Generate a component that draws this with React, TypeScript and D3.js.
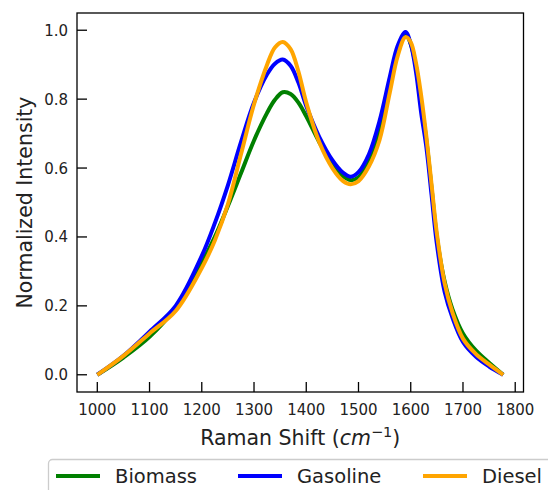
import React, { useEffect, useRef } from 'react';
import * as d3 from 'd3';

// Raman shift grid (cm^-1) shared by all spectra
const ramanShift = [
  1000, 1050, 1100, 1150, 1200, 1225, 1250, 1275, 1300, 1325, 1340, 1355, 1370, 1385,
  1400, 1425, 1450, 1470, 1485, 1500, 1520, 1540, 1560, 1575, 1590, 1600, 1610, 1620,
  1630, 1640, 1650, 1665, 1680, 1700, 1725, 1750, 1777,
];

const biomass = [
  0, 0.05, 0.11, 0.195, 0.325, 0.4, 0.49, 0.585, 0.68, 0.76, 0.798, 0.82, 0.815, 0.79,
  0.75, 0.675, 0.61, 0.577, 0.565, 0.573, 0.62, 0.7, 0.84, 0.94, 0.99, 0.96, 0.895, 0.79,
  0.68, 0.54, 0.4, 0.27, 0.19, 0.12, 0.07, 0.035, 0,
];

const gasoline = [
  0, 0.055, 0.125, 0.2, 0.345, 0.44, 0.55, 0.675, 0.79, 0.872, 0.903, 0.915, 0.897, 0.848,
  0.78, 0.69, 0.623, 0.587, 0.575, 0.588, 0.64, 0.735, 0.865, 0.955, 0.995, 0.96, 0.88, 0.76,
  0.66, 0.52, 0.38, 0.24, 0.165, 0.095, 0.052, 0.024, 0,
];

const diesel = [
  0, 0.055, 0.12, 0.185, 0.31, 0.39, 0.495, 0.64, 0.785, 0.9, 0.95, 0.966, 0.945, 0.88,
  0.79, 0.675, 0.6, 0.563, 0.553, 0.562, 0.605, 0.68, 0.82, 0.925, 0.98, 0.965, 0.905, 0.81,
  0.69, 0.55, 0.41, 0.265, 0.18, 0.105, 0.06, 0.03, 0,
];

const seriesNames = ['Biomass', 'Gasoline', 'Diesel'];
const seriesColors = ['green', 'blue', 'orange'];
const xTicks = [1000, 1100, 1200, 1300, 1400, 1500, 1600, 1700, 1800];
const yTicks = [0, 0.2, 0.4, 0.6, 0.8, 1.0];

export default function App() {
  const svgRef = useRef<SVGSVGElement>(null);

  useEffect(() => {
    if (!svgRef.current) return;
    const width = 548;
    const height = 490;
    const svg = d3.select(svgRef.current);
    svg.selectAll('*').remove();

    const left = 77;
    const right = 523.5;
    const top = 13;
    const bottom = 392;

    // matplotlib-style 5% margins around the data
    const xPad = (1777 - 1000) * 0.05;
    const x = d3.scaleLinear().domain([1000 - xPad, 1777 + xPad]).range([left, right]);
    const y = d3.scaleLinear().domain([-0.05, 1.05]).range([bottom, top]);

    const font = 'DejaVu Sans, sans-serif';

    // Lines
    const allSeries = [biomass, gasoline, diesel];
    const line = d3.line<number>()
      .x((_, i) => x(ramanShift[i]))
      .y(d => y(d))
      .curve(d3.curveCatmullRom.alpha(0.5));

    allSeries.forEach((vals, k) => {
      svg.append('path')
        .datum(vals)
        .attr('fill', 'none')
        .attr('stroke', seriesColors[k])
        .attr('stroke-width', 4)
        .attr('stroke-linejoin', 'round')
        .attr('stroke-linecap', 'butt')
        .attr('d', line);
    });

    // Ticks (inward, left and bottom only)
    const tickLen = 10;
    xTicks.forEach(t => {
      svg.append('line')
        .attr('x1', x(t)).attr('x2', x(t))
        .attr('y1', bottom).attr('y2', bottom - tickLen)
        .attr('stroke', '#000').attr('stroke-width', 1.3);
      svg.append('text')
        .attr('x', x(t))
        .attr('y', 414.5)
        .attr('text-anchor', 'middle')
        .style('font-family', font)
        .style('font-size', '15px')
        .style('fill', '#222')
        .text(String(t));
    });

    yTicks.forEach(t => {
      svg.append('line')
        .attr('x1', left).attr('x2', left + tickLen)
        .attr('y1', y(t)).attr('y2', y(t))
        .attr('stroke', '#000').attr('stroke-width', 1.3);
      svg.append('text')
        .attr('x', 68)
        .attr('y', y(t) + 5.5)
        .attr('text-anchor', 'end')
        .style('font-family', font)
        .style('font-size', '15px')
        .style('fill', '#222')
        .text(t.toFixed(1));
    });

    // Frame
    svg.append('rect')
      .attr('x', left)
      .attr('y', top)
      .attr('width', right - left)
      .attr('height', bottom - top)
      .attr('fill', 'none')
      .attr('stroke', '#000')
      .attr('stroke-width', 1.3);

    // Axis labels
    const xl = svg.append('text')
      .attr('x', (left + right) / 2)
      .attr('y', 445)
      .attr('text-anchor', 'middle')
      .style('font-family', font)
      .style('font-size', '20.5px')
      .style('fill', '#222');
    xl.append('tspan').text('Raman Shift (');
    xl.append('tspan').style('font-style', 'italic').text('cm');
    xl.append('tspan').attr('dy', -8).style('font-size', '14.5px').text('\u22121');
    xl.append('tspan').attr('dy', 8).text(')');

    svg.append('text')
      .attr('transform', `translate(31.5,${(top + bottom) / 2}) rotate(-90)`)
      .attr('text-anchor', 'middle')
      .style('font-family', font)
      .style('font-size', '20.5px')
      .style('fill', '#222')
      .text('Normalized Intensity');

    // Legend (runs off the right/bottom edge)
    svg.append('rect')
      .attr('x', 48.5)
      .attr('y', 459.5)
      .attr('width', 540)
      .attr('height', 60)
      .attr('rx', 4)
      .attr('fill', 'white')
      .attr('fill-opacity', 0.8)
      .attr('stroke', '#ccc')
      .attr('stroke-width', 1.3);

    const legendLineX = [56, 238, 423];
    legendLineX.forEach((lx, k) => {
      svg.append('line')
        .attr('x1', lx).attr('x2', lx + 44)
        .attr('y1', 476).attr('y2', 476)
        .attr('stroke', seriesColors[k])
        .attr('stroke-width', 4);
      svg.append('text')
        .attr('x', lx + 59)
        .attr('y', 483)
        .style('font-family', font)
        .style('font-size', '19.5px')
        .style('fill', '#222')
        .text(seriesNames[k]);
    });

    svg.attr('width', width).attr('height', height);
  }, []);

  return (
    <svg
      ref={svgRef}
      width={548}
      height={490}
      style={{ position: 'absolute', left: 0, top: 0, background: 'white' }}
    />
  );
}
